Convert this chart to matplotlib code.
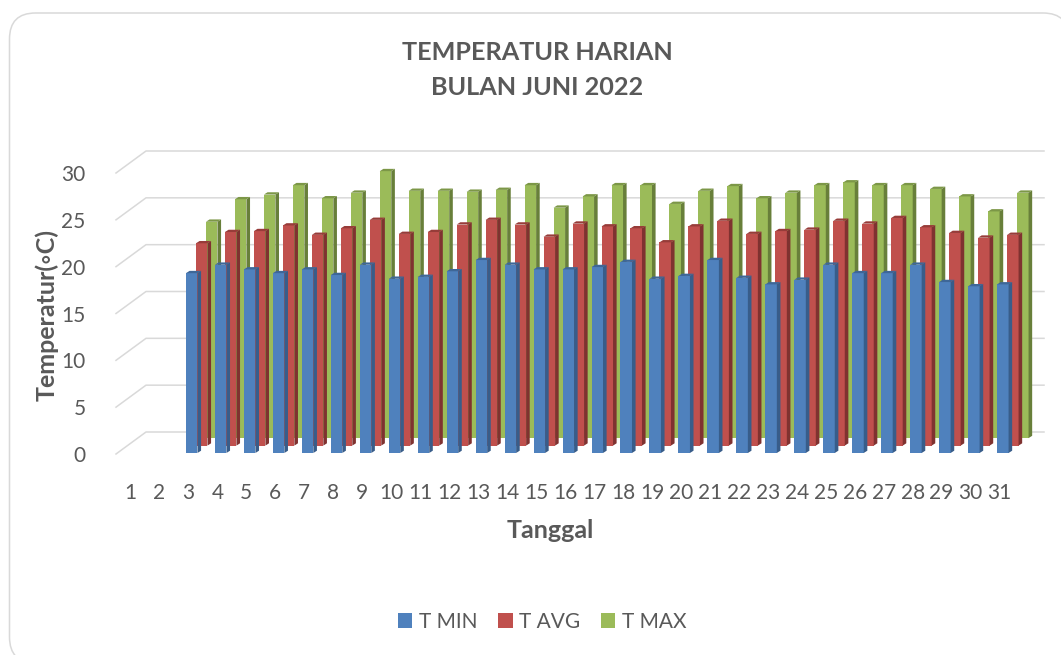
import matplotlib
matplotlib.use("Agg")
import matplotlib.pyplot as plt
from matplotlib.patches import FancyBboxPatch, Patch, Polygon
from matplotlib.lines import Line2D
from matplotlib.transforms import IdentityTransform

plt.rcParams['font.family'] = ['Lato', 'DejaVu Sans']

day_labels = list(range(1, 32))
days = list(range(3, 32))
t_min = [19.2, 20.1, 19.6, 19.2, 19.6, 19.0, 20.1, 18.6, 18.8, 19.4, 20.6, 20.1, 19.6, 19.6, 19.85,
         20.4, 18.6, 18.9, 20.6, 18.7, 18.0, 18.5, 20.1, 19.2, 19.2, 20.1, 18.25, 17.8, 18.0]
t_avg = [21.6, 22.8, 22.9, 23.5, 22.5, 23.2, 24.1, 22.6, 22.8, 23.6, 24.1, 23.6, 22.3, 23.7, 23.4,
         23.2, 21.7, 23.4, 24.0, 22.6, 22.9, 23.05, 24.0, 23.7, 24.3, 23.3, 22.7, 22.2, 22.5]
t_max = [23.1, 25.5, 26.0, 27.0, 25.6, 26.2, 28.5, 26.4, 26.4, 26.3, 26.5, 27.0, 24.6, 25.8, 27.0,
         27.0, 25.0, 26.4, 26.9, 25.6, 26.2, 27.0, 27.3, 27.0, 27.0, 26.6, 25.8, 24.2, 26.2]
series_names = ['T MIN', 'T AVG', 'T MAX']
y_ticks = [0, 5, 10, 15, 20, 25, 30]

W, H = 1061, 655
front = ['#4f81bd', '#c0504d', '#9bbb59']
side = ['#385d8a', '#7f3230', '#687f3a']
top = ['#3e6798', '#973c39', '#7c9747']
grid_c = '#d9d9d9'
text_c = '#595959'

fig = plt.figure(figsize=(W / 100, H / 100), dpi=100, facecolor='white')
fig.add_artist(FancyBboxPatch((9.5 + 26, -8 + 26), 1059.5 - 52, 650 - 52,
                              boxstyle='round,pad=26,rounding_size=26', fc='white', ec=grid_c,
                              lw=1.1, transform=IdentityTransform(), zorder=-1))

x0, x1, y0, y30 = 116, 1014, 454, 173
ax = fig.add_axes([x0 / W, (H - y0) / H, (x1 - x0) / W, (y0 - y30) / H])
ax.set_xlim(0.5, 31.5)
ax.set_ylim(0, 30)
ax.patch.set_visible(False)
for s in ax.spines.values():
    s.set_visible(False)

px = (x1 - x0) / 31      # pixels per category
py = (y0 - y30) / 30     # pixels per unit

# floor depth and walls
depth_x, depth_y = 30 / px, 22 / py
for v in y_ticks:
    ax.add_line(Line2D([0.5, 0.5 + depth_x, 31.5 + depth_x], [v, v + depth_y, v + depth_y],
                       color=grid_c, lw=1.1, clip_on=False, zorder=1))

shift_x = [3.3 / px, 13.3 / px, 23.3 / px]
shift_y = [1 / py, 8.4 / py, 15.9 / py]
bar_w = 11.5 / px
side_x, side_y = 3.6 / px, 2.3 / py

all_series = [t_min, t_avg, t_max]
for i in [2, 1, 0]:
    z = 3 + (2 - i)
    for d, v in zip(days, all_series[i]):
        l = d + shift_x[i] - bar_w / 2
        r = l + bar_w
        b = shift_y[i]
        t = b + v
        ax.bar(l, v, width=bar_w, bottom=b, align='edge', color=front[i], lw=0, clip_on=False, zorder=z)
        ax.add_patch(Polygon([(r, b), (r + side_x, b + side_y), (r + side_x, t + side_y), (r, t)],
                             fc=side[i], lw=0, clip_on=False, zorder=z))
        ax.add_patch(Polygon([(l, t), (r, t), (r + side_x, t + side_y), (l + side_x, t + side_y)],
                             fc=top[i], lw=0, clip_on=False, zorder=z))

ax.set_xticks(day_labels)
ax.set_xticklabels([str(d) for d in day_labels])
ax.set_yticks(y_ticks)
ax.tick_params(axis='both', length=0, labelsize=15, labelcolor=text_c)
ax.tick_params(axis='x', pad=21)
ax.tick_params(axis='y', pad=22)

fig.text(537 / W, (H - 70) / H, 'TEMPERATUR HARIAN\nBULAN JUNI 2022', ha='center', va='center',
         fontsize=18.2, fontweight='bold', color=text_c, linespacing=1.6)
fig.text(47 / W, (H - 315) / H, 'Temperatur(\u25e6C)', rotation=90, ha='center', va='center',
         fontsize=18, fontweight='bold', color=text_c, family=['Lato', 'DejaVu Sans'])
fig.text(550 / W, (H - 531) / H, 'Tanggal', ha='center', va='center',
         fontsize=18, fontweight='bold', color=text_c)

handles = [Patch(fc=c, lw=0, label=n) for c, n in zip(front, series_names)]
fig.legend(handles=handles, loc='center', bbox_to_anchor=(542 / W, (H - 622) / H), ncol=3, frameon=False,
           fontsize=15, labelcolor=text_c, handlelength=0.7, handleheight=0.7,
           handletextpad=0.3, columnspacing=1.0)

fig.savefig('out.png', dpi=100)
